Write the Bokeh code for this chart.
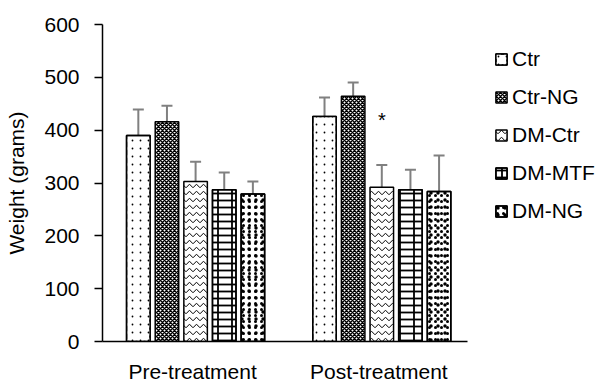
from bokeh.plotting import figure
from bokeh.models import (Range1d, FixedTicker, Whisker, TeeHead, ColumnDataSource,
                          Legend, LegendItem)
from bokeh.core.properties import value
from bokeh.embed import file_html
from bokeh.resources import INLINE

# ---------------- data ----------------
phases = ["Pre-treatment", "Post-treatment"]
groups = ["Ctr", "Ctr-NG", "DM-Ctr", "DM-MTF", "DM-NG"]

ctr_mean = [390, 426]
ctr_err = [49, 36]
ctrng_mean = [416, 464]
ctrng_err = [30, 26]
dmctr_mean = [303, 292]
dmctr_err = [37, 42]
dmmtf_mean = [287, 287]
dmmtf_err = [33, 38]
dmng_mean = [279, 284]
dmng_err = [24, 68]

y_ticks = [0, 100, 200, 300, 400, 500, 600]
significant = ("Post-treatment", "DM-Ctr")

means = [ctr_mean, ctrng_mean, dmctr_mean, dmmtf_mean, dmng_mean]
errs = [ctr_err, ctrng_err, dmctr_err, dmmtf_err, dmng_err]

# hatch layers per series (built-in patterns, overlaid where needed)
hatch_layers = [
    [dict(hatch_pattern="dot", hatch_scale=8),
     dict(hatch_pattern="ring", hatch_scale=8, hatch_weight=2.2, hatch_color="white")],
    [dict(hatch_pattern="diagonal_cross", hatch_scale=4, hatch_weight=1.5)],
    [dict(hatch_pattern="horizontal_wave", hatch_scale=7, hatch_weight=1.0)],
    [dict(hatch_pattern="horizontal_line", hatch_scale=7, hatch_weight=1.8),
     dict(hatch_pattern="vertical_line", hatch_scale=14, hatch_weight=1.8)],
    [dict(hatch_pattern="dot", hatch_scale=6),
     dict(hatch_pattern="dot", hatch_scale=7)],
]

FONT = "Liberation Sans"
PITCH = 0.1538
BAR_W = 0.1263
LABEL_SHIFT = -0.016
X_START, X_AXIS_END = -0.5, 1.4624
PX_PER_UNIT = 186.2

W, H = 600, 385
LEFT, TOP, BOTTOM = 102, 24, 41
frame_w = W - LEFT
x_end = X_START + frame_w / PX_PER_UNIT

p = figure(width=W, height=H,
           x_range=Range1d(X_START, x_end), y_range=Range1d(0, 600),
           output_backend="svg", toolbar_location=None,
           min_border_left=LEFT, min_border_right=0,
           min_border_top=TOP, min_border_bottom=BOTTOM)
p.outline_line_color = None
p.grid.visible = False
p.background_fill_color = "white"
p.border_fill_color = "white"

items = []
for i, g in enumerate(groups):
    xs = [k + (i - 2) * PITCH for k in range(len(phases))]
    src = ColumnDataSource(dict(x=xs, top=means[i],
                                upper=[m + e for m, e in zip(means[i], errs[i])]))
    rends = []
    for j, hl in enumerate(hatch_layers[i]):
        style = dict(hatch_color="black")
        style.update(hl)
        r = p.vbar(x="x", top="top", width=BAR_W, source=src,
                   fill_color="white", fill_alpha=1.0 if j == 0 else 0.0,
                   line_color="black", line_width=1.5, **style)
        rends.append(r)
    items.append(LegendItem(label=g, renderers=rends))
    w = Whisker(source=src, base="x", lower="top", upper="upper", dimension="height",
                line_color="#808080", line_width=2,
                upper_head=TeeHead(size=11, line_color="#808080", line_width=2),
                lower_head=None)
    p.add_layout(w)

# significance marker
sx = phases.index(significant[0]) + (groups.index(significant[1]) - 2) * PITCH
p.text(x=[sx], y=[420], text=["*"], text_font=value(FONT), text_font_size="20px",
       text_align="center", text_baseline="alphabetic", text_color="black")

# axes
xa = p.xaxis[0]
xa.bounds = (X_START, X_AXIS_END)
tick_pos = [k + LABEL_SHIFT for k in range(len(phases))]
xa.ticker = FixedTicker(ticks=tick_pos)
xa.major_label_overrides = {t: ph for t, ph in zip(tick_pos, phases)}
xa.major_tick_line_color = None
xa.minor_tick_line_color = None
xa.major_tick_out = 0
xa.major_label_standoff = 18
xa.axis_line_color = "black"
xa.axis_line_width = 1.5
xa.major_label_text_font = FONT
xa.major_label_text_font_size = "21px"
xa.major_label_text_color = "black"

ya = p.yaxis[0]
ya.ticker = FixedTicker(ticks=y_ticks)
ya.minor_tick_line_color = None
ya.major_tick_out = 8
ya.major_tick_in = 0
ya.major_tick_line_color = "black"
ya.major_tick_line_width = 1.5
ya.axis_line_color = "black"
ya.axis_line_width = 1.5
ya.major_label_standoff = 15
ya.major_label_text_font = FONT
ya.major_label_text_font_size = "21px"
ya.major_label_text_color = "black"
ya.axis_label = "Weight (grams)"
ya.axis_label_standoff = 13
ya.axis_label_text_font = FONT
ya.axis_label_text_font_size = "21px"
ya.axis_label_text_font_style = "normal"
ya.axis_label_text_color = "black"

lg = Legend(items=items, location=(392, 118))
lg.background_fill_alpha = 0
lg.border_line_color = None
lg.padding = 0
lg.margin = 0
lg.spacing = 14
lg.label_height = 24
lg.glyph_height = 14
lg.glyph_width = 14
lg.label_standoff = 4
lg.label_text_font = FONT
lg.label_text_font_size = "21px"
lg.label_text_color = "black"
p.add_layout(lg)

open("out.html", "w").write(file_html(p, INLINE))
